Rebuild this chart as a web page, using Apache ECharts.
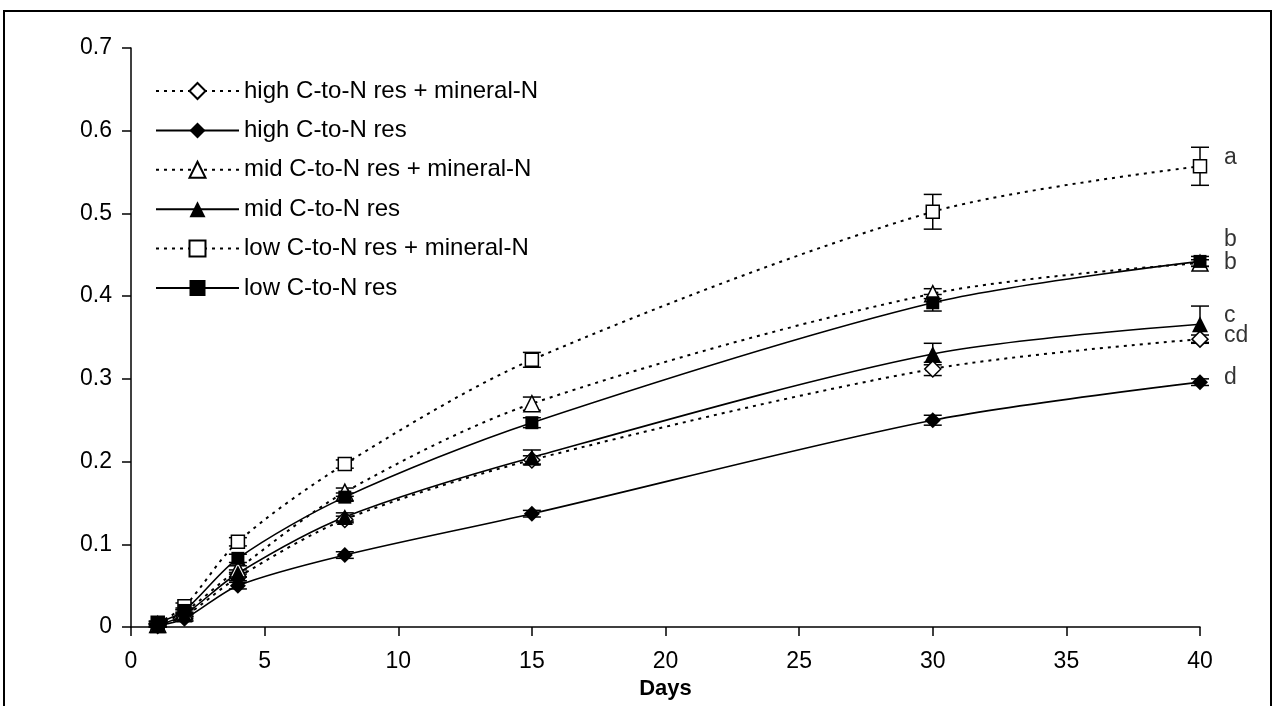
<!DOCTYPE html>
<html>
<head>
<meta charset="utf-8">
<title>Days chart</title>
<script src="https://cdn.jsdelivr.net/npm/echarts@6/dist/echarts.min.js"></script>
<style>
  html, body { margin: 0; padding: 0; background: #fff; }
  #main { width: 1276px; height: 706px; }
</style>
</head>
<body>
<div id="main"></div>
<script type="text/javascript">
  // sampling days
  var days = [1, 2, 4, 8, 15, 30, 40];

  var seriesNames = [
    'high C-to-N res + mineral-N',
    'high C-to-N res',
    'mid C-to-N res + mineral-N',
    'mid C-to-N res',
    'low C-to-N res + mineral-N',
    'low C-to-N res'
  ];

  // values
  var highMin = [0.002, 0.013, 0.060, 0.130, 0.202, 0.312, 0.348];
  var high    = [0.002, 0.010, 0.050, 0.087, 0.137, 0.250, 0.296];
  var midMin  = [0.003, 0.018, 0.070, 0.163, 0.270, 0.403, 0.440];
  var mid     = [0.002, 0.015, 0.065, 0.133, 0.205, 0.330, 0.366];
  var lowMin  = [0.005, 0.025, 0.103, 0.197, 0.323, 0.502, 0.557];
  var low     = [0.005, 0.020, 0.083, 0.157, 0.247, 0.392, 0.442];

  // error bar half widths
  var highMinErr = [0.002, 0.003, 0.004, 0.004, 0.005, 0.008, 0.005];
  var highErr    = [0.002, 0.003, 0.004, 0.004, 0.004, 0.006, 0.004];
  var midMinErr  = [0.002, 0.003, 0.004, 0.005, 0.008, 0.006, 0.004];
  var midErr     = [0.002, 0.003, 0.004, 0.005, 0.009, 0.013, 0.022];
  var lowMinErr  = [0.002, 0.004, 0.005, 0.005, 0.009, 0.021, 0.023];
  var lowErr     = [0.002, 0.003, 0.005, 0.005, 0.006, 0.010, 0.006];

  // significance letters at day 40
  var letters = ['a', 'b', 'b', 'c', 'cd', 'd'];
  var letterY = [0.568, 0.468, 0.440, 0.377, 0.352, 0.301];

  var values = [highMin, high, midMin, mid, lowMin, low];
  var errs = [highMinErr, highErr, midMinErr, midErr, lowMinErr, lowErr];
  var symbols = ['diamond', 'diamond', 'triangle', 'triangle', 'rect', 'rect'];
  var sizes = [16, 16, 16, 16, 13, 13];

  var FONT = 'Liberation Sans, Arial, sans-serif';

  function pairs(arr) {
    return days.map(function (d, i) { return [d, arr[i]]; });
  }

  var errData = [];
  values.forEach(function (arr, k) {
    days.forEach(function (d, i) {
      errData.push([d, arr[i] - errs[k][i], arr[i] + errs[k][i]]);
    });
  });

  function renderErr(params, api) {
    var x = api.value(0);
    var top = api.coord([x, api.value(2)]);
    var bot = api.coord([x, api.value(1)]);
    var w = 9;
    var st = { stroke: '#000', lineWidth: 1.5 };
    return {
      type: 'group',
      children: [
        { type: 'line', shape: { x1: top[0], y1: top[1], x2: bot[0], y2: bot[1] }, style: st },
        { type: 'line', shape: { x1: top[0] - w, y1: top[1], x2: top[0] + w, y2: top[1] }, style: st },
        { type: 'line', shape: { x1: bot[0] - w, y1: bot[1], x2: bot[0] + w, y2: bot[1] }, style: st }
      ]
    };
  }

  var series = [{
    type: 'custom',
    name: 'err',
    renderItem: renderErr,
    data: errData,
    encode: { x: 0, y: [1, 2] },
    silent: true,
    z: 1
  }];

  values.forEach(function (arr, k) {
    var open = (k % 2 === 0);
    series.push({
      name: seriesNames[k],
      type: 'line',
      data: pairs(arr),
      smooth: 0.3,
      symbol: symbols[k],
      symbolSize: sizes[k],
      showAllSymbol: true,
      lineStyle: {
        color: '#000',
        width: open ? 2 : 1.6,
        type: open ? [3, 5] : 'solid'
      },
      itemStyle: {
        color: open ? '#fff' : '#000',
        borderColor: '#000',
        borderWidth: open ? 1.5 : 0
      },
      z: 3
    });
  });

  series.push({
    type: 'scatter',
    name: 'letters',
    data: letters.map(function (t, i) { return [40, letterY[i], t]; }),
    symbolSize: 0,
    silent: true,
    label: {
      show: true,
      position: 'right',
      distance: 24,
      color: '#000',
      fontFamily: FONT,
      fontSize: 23,
      formatter: function (p) { return p.value[2]; }
    },
    z: 4
  });

  var myChart = echarts.init(document.getElementById('main'));
  var option = {
    backgroundColor: '#fff',
    animation: false,
    textStyle: { fontFamily: FONT, color: '#000' },
    graphic: [{
      type: 'rect',
      shape: { x: 4, y: 11, width: 1267, height: 800 },
      style: { fill: 'none', stroke: '#000', lineWidth: 2 },
      silent: true
    }],
    grid: { left: 131, right: 76, top: 48, bottom: 79, outerBoundsMode: 'none' },
    legend: {
      data: seriesNames,
      orient: 'vertical',
      left: 150,
      top: 74,
      itemWidth: 83,
      itemHeight: 20,
      itemGap: 15.4,
      textStyle: { fontFamily: FONT, fontSize: 24, color: '#000' }
    },
    xAxis: {
      type: 'value',
      min: 0,
      max: 40,
      interval: 5,
      name: 'Days',
      nameLocation: 'middle',
      nameGap: 48,
      nameTextStyle: { fontFamily: FONT, fontSize: 22, fontWeight: 'bold', color: '#000' },
      axisLine: { lineStyle: { color: '#000', width: 1.5 } },
      axisTick: { length: 9, lineStyle: { color: '#000', width: 1.5 } },
      axisLabel: { fontFamily: FONT, fontSize: 23, color: '#000', margin: 23 },
      splitLine: { show: false }
    },
    yAxis: {
      type: 'value',
      min: 0,
      max: 0.7,
      interval: 0.1,
      axisLine: { show: true, lineStyle: { color: '#000', width: 1.5 } },
      axisTick: { show: true, length: 9, lineStyle: { color: '#000', width: 1.5 } },
      axisLabel: {
        fontFamily: FONT, fontSize: 23, color: '#000', margin: 19,
        formatter: function (v) { return v === 0 ? '0' : v.toFixed(1); }
      },
      splitLine: { show: false }
    },
    series: series
  };
  myChart.setOption(option);
</script>
</body>
</html>
